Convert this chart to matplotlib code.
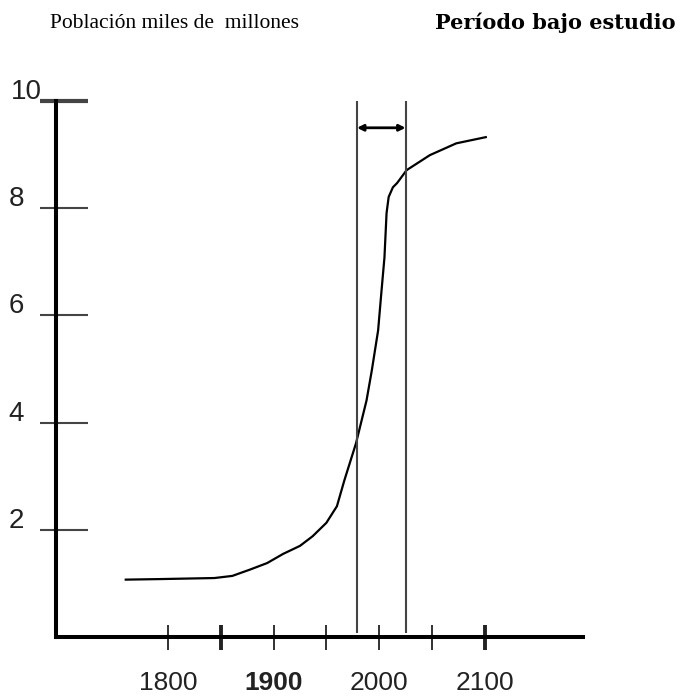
import matplotlib
matplotlib.use("Agg")
import matplotlib.pyplot as plt

# curva de poblacion (miles de millones)
anios = [1759, 1791, 1844, 1861, 1878, 1894, 1909, 1925, 1937, 1950, 1960,
         1967, 1978, 1988, 1993, 1999, 2002, 2005, 2007, 2009, 2013, 2017,
         2026, 2048, 2073, 2102]
poblacion = [1.07, 1.08, 1.10, 1.14, 1.26, 1.38, 1.55, 1.70, 1.88, 2.13, 2.44,
             2.92, 3.61, 4.41, 4.97, 5.72, 6.41, 7.08, 7.91, 8.21, 8.39, 8.47,
             8.71, 8.99, 9.21, 9.33]

periodo = [1979, 2025]
x_ticks = [1800, 1850, 1900, 1950, 2000, 2050, 2100]
x_bold = [1850, 2100]
x_labels = ["1800", "1900", "2000", "2100"]
x_label_pos = [1800, 1900, 2000, 2100]
y_ticks = [2, 4, 6, 8, 10]
y_labels = ["2", "4", "6", "8", "10"]

fuente_num = ["Liberation Sans", "DejaVu Sans"]

fig = plt.figure(figsize=(6.86, 6.96), dpi=100)
ax = fig.add_axes([56 / 686, 59 / 696, 527 / 686, 536 / 696])
ax.set_xlim(1694, 2193)
ax.set_ylim(0, 10)

for s in ["top", "right"]:
    ax.spines[s].set_visible(False)
for s in ["left", "bottom"]:
    ax.spines[s].set_linewidth(2.9)
    ax.spines[s].set_capstyle("projecting")

# eje x
ax.set_xticks(x_ticks)
ax.set_xticklabels([])
ax.tick_params(axis="x", direction="inout", length=18, width=1.3, color="#222")
for t, v in zip(ax.xaxis.get_major_ticks(), x_ticks):
    if v in x_bold:
        t.tick1line.set_markeredgewidth(2.8)
        t.tick1line.set_color("black")
for lbl, v in zip(x_labels, x_label_pos):
    ax.annotate(lbl, xy=(v, 0), xycoords=("data", "axes fraction"),
                xytext=(0, -53), textcoords="offset pixels",
                ha="center", va="baseline", fontsize=19,
                family=fuente_num, color="#222",
                fontweight="bold" if lbl == "1900" else "normal")

# eje y: marcas que cruzan el eje
ax.set_yticks(y_ticks)
ax.set_yticklabels([])
ax.set_yticks(y_ticks, minor=True)
ax.yaxis.remove_overlapping_locs = False
ax.tick_params(axis="y", which="major", direction="in", length=23, width=1.5, color="#444")
ax.tick_params(axis="y", which="minor", direction="out", length=11.5, width=1.5, color="#444")
ax.yaxis.get_major_ticks()[-1].tick1line.set_markeredgewidth(3)
ax.yaxis.get_major_ticks()[-1].tick1line.set_color("black")
ax.yaxis.get_minor_ticks()[-1].tick1line.set_markeredgewidth(3)
ax.yaxis.get_minor_ticks()[-1].tick1line.set_color("black")
for lbl, v in zip(y_labels, y_ticks):
    dx = -14 if lbl == "10" else -32
    ax.annotate(lbl, xy=(0, v), xycoords=("axes fraction", "data"),
                xytext=(dx, 2), textcoords="offset pixels",
                ha="right", va="baseline", fontsize=20,
                family=fuente_num, color="#222")

# curva
ax.plot(anios, poblacion, color="black", lw=1.6, solid_capstyle="butt")

# periodo bajo estudio
ax.vlines(periodo, 0.07, 10.0, color="#444", lw=1.5)
ax.annotate("", xy=(periodo[0], 9.5), xytext=(periodo[1], 9.5),
            arrowprops=dict(arrowstyle="<|-|>", color="black", lw=2,
                            shrinkA=0, shrinkB=0, mutation_scale=9))

fig.text(50 / 686, 1 - 23 / 696, "Población miles de  millones",
         family="Liberation Serif", fontsize=15.5, va="center", ha="left")
fig.text(676 / 686, 1 - 23 / 696, "Período bajo estudio",
         family="DejaVu Serif", fontsize=15, fontweight="bold",
         va="center", ha="right")

fig.savefig("out.png", dpi=100)
